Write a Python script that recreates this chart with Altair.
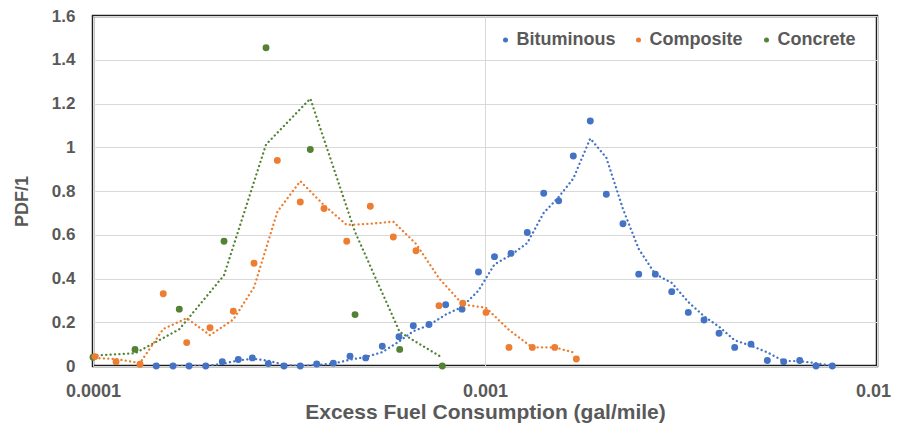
import math
import altair as alt
import pandas as pd

series_names = ["Bituminous", "Composite", "Concrete"]
series_colors = ["#4472C4", "#ED7D31", "#548235"]

bit_x = [1.450e-4, 1.600e-4, 1.758e-4, 1.939e-4, 2.137e-4, 2.348e-4, 2.550e-4, 2.801e-4,
         3.071e-4, 3.379e-4, 3.721e-4, 4.102e-4, 4.525e-4, 4.962e-4, 5.470e-4, 6.034e-4,
         6.563e-4, 7.197e-4, 7.937e-4, 8.737e-4, 9.625e-4, 1.0573e-3, 1.1650e-3, 1.2818e-3,
         1.4119e-3, 1.5417e-3, 1.6800e-3, 1.8560e-3, 2.0393e-3, 2.2491e-3, 2.4669e-3,
         2.7194e-3, 2.9951e-3, 3.3008e-3, 3.6207e-3, 3.9537e-3, 4.3351e-3, 4.7710e-3,
         5.2508e-3, 5.7810e-3, 6.3503e-3, 6.9903e-3, 7.6913e-3]
bit_y = [0, 0, 0, 0, 0.02, 0.03, 0.037, 0.011, 0, 0, 0.009, 0.013, 0.045, 0.037, 0.09,
         0.134, 0.184, 0.19, 0.28, 0.26, 0.43, 0.50, 0.515, 0.61, 0.79, 0.755, 0.96, 1.12,
         0.785, 0.65, 0.42, 0.42, 0.34, 0.245, 0.21, 0.15, 0.085, 0.10, 0.025, 0.02, 0.025,
         0, 0]

comp_x = [8.84e-5, 1.012e-4, 1.145e-4, 1.318e-4, 1.511e-4, 1.734e-4, 1.988e-4, 2.280e-4,
          2.575e-4, 2.953e-4, 3.379e-4, 3.885e-4, 4.439e-4, 5.098e-4, 5.836e-4, 6.668e-4,
          7.632e-4, 8.773e-4, 1.0060e-3, 1.1513e-3, 1.3202e-3, 1.5064e-3, 1.7100e-3]
comp_y = [0.03, 0.043, 0.02, 0.008, 0.33, 0.107, 0.175, 0.25, 0.47, 0.94, 0.75, 0.72,
          0.57, 0.73, 0.59, 0.527, 0.276, 0.287, 0.245, 0.085, 0.085, 0.085, 0.032]

conc_x = [7.72e-5, 1.0e-4, 1.280e-4, 1.660e-4, 2.159e-4, 2.763e-4, 3.584e-4, 4.661e-4,
          6.059e-4, 7.782e-4]
conc_y = [0.055, 0.04, 0.076, 0.26, 0.57, 1.455, 0.99, 0.235, 0.076, 0.0]

x_tick_values = [0.0001, 0.001, 0.01]
x_tick_labels = ["0.0001", "0.001", "0.01"]
y_tick_values = [0, 0.2, 0.4, 0.6, 0.8, 1.0, 1.2, 1.4, 1.6]

FONT = "Liberation Sans, Arial, sans-serif"
TXT = "#595959"
color_of = dict(zip(series_names, series_colors))

frames = []
for name, xs, ys in [("Concrete", conc_x, conc_y),
                     ("Bituminous", bit_x, bit_y),
                     ("Composite", comp_x, comp_y)]:
    df = pd.DataFrame({"series": name, "x": xs, "y": ys})
    df["ma"] = df["y"].rolling(2).mean()  # 2-period moving average trendline
    df["col"] = color_of[name]
    frames.append(df)
data = pd.concat(frames, ignore_index=True)
data["ord"] = range(len(data))
pts = data[data["x"] >= 0.0000999].copy()
ma = data.dropna(subset=["ma"]).copy()

label_expr = " : ".join(
    f"abs(log(datum.value)/LN10 - ({math.log10(v)})) < 0.01 ? '{lab}'"
    for v, lab in zip(x_tick_values, x_tick_labels)
) + " : ''"

xscale = alt.Scale(type="log", domain=[1e-4, 1e-2], nice=False)
yscale = alt.Scale(domain=[0, 1.6], nice=False)
cscale = alt.Scale(domain=series_names, range=series_colors)

xaxis = alt.Axis(values=x_tick_values, labelExpr=label_expr, title="Excess Fuel Consumption (gal/mile)",
                 labelFlush=False, labelOverlap=False, labelBaseline="alphabetic", labelPadding=30,
                 labelOffset={"condition": {"test": "datum.value > 0.005", "value": -4}, "value": 0},
                 labelFontSize=18, titleFontSize=21, titleBaseline="alphabetic", titleY=52,
                 grid=True, ticks=False, tickSize=0, domain=False)
yaxis = alt.Axis(values=y_tick_values, format=".1~f", title="PDF/1", labelPadding=18,
                 labelFontSize=17, titleFontSize=18, titleAngle=270, titleBaseline="alphabetic",
                 titleAlign="center", titleX=-65.5, titleY=185,
                 grid=True, ticks=False, tickSize=0, domain=False)

lines = alt.Chart(ma).mark_line(
    strokeDash=[0.1, 4.3], strokeCap="round", strokeWidth=2.3, clip=True
).encode(
    x=alt.X("x:Q", scale=xscale, axis=xaxis),
    y=alt.Y("ma:Q", scale=yscale, axis=yaxis),
    color=alt.Color("col:N", scale=None),
    detail="series:N",
    order="x:Q",
)

points = alt.Chart(pts).mark_circle(size=48, opacity=1).encode(
    x=alt.X("x:Q", scale=xscale),
    y=alt.Y("y:Q", scale=yscale),
    color=alt.Color("series:N", scale=cscale,
                    legend=alt.Legend(orient="none", legendX=403.5, legendY=15,
                                      direction="horizontal", title=None,
                                      labelFontSize=18, labelFontWeight="bold", labelColor=TXT,
                                      labelFont=FONT, symbolSize=25, symbolType="circle",
                                      labelOffset=2, columnPadding=14, padding=0,
                                      symbolStrokeWidth=0)),
    order="ord:Q",
)

chart = alt.layer(lines, points).properties(
    width=784, height=350,
    autosize=alt.AutoSizeParams(type="none"),
    padding={"left": 85, "top": 8, "right": 14, "bottom": 57},
    background="white",
).configure_view(
    stroke="#1f1f1f", strokeWidth=2.5
).configure_axis(
    labelFont=FONT, titleFont=FONT, labelColor=TXT, titleColor=TXT,
    labelFontWeight="bold", titleFontWeight="bold",
    gridColor="#D9D9D9", gridWidth=1,
)

chart.save("out.html", embed_options={"renderer": "svg", "actions": False})
